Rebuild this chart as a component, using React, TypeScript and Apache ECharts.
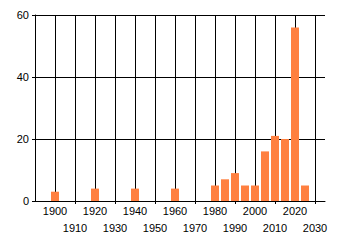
import React, { useEffect, useRef } from "react";
import * as echarts from "echarts";

const years = [1900, 1920, 1940, 1960, 1980, 1985, 1990, 1995, 2000, 2005, 2010, 2015, 2020, 2025];
const counts = [3, 4, 4, 4, 5, 7, 9, 5, 5, 16, 21, 20, 56, 5];
const yTicks = [0, 20, 40, 60];
const xLabelValues = [1900, 1910, 1920, 1930, 1940, 1950, 1960, 1970, 1980, 1990, 2000, 2010, 2020, 2030];
const xTickMarks = [1910, 1930, 1950, 1970, 1990, 2010, 2030];

const FONT = "'Liberation Sans', Arial, sans-serif";

export default function App() {
  const ref = useRef<HTMLDivElement>(null);
  useEffect(() => {
    if (!ref.current) return;
    const chart = echarts.init(ref.current, null, { renderer: "svg" });
    chart.setOption({
      animation: false,
      backgroundColor: "#ffffff",
      grid: { left: 35, right: 15, top: 15, bottom: 44 },
      xAxis: [
        {
          type: "value",
          min: 1890,
          max: 2035,
          interval: 10,
          axisLine: { show: true, lineStyle: { color: "#000", width: 1 } },
          axisTick: { show: false },
          splitLine: { show: true, showMaxLine: false, lineStyle: { color: "#000", width: 1 } },
          axisLabel: {
            show: true,
            margin: 1,
            color: "#000",
            fontFamily: FONT,
            fontSize: 11,
            lineHeight: 17,
            hideOverlap: false,
            showMinLabel: true,
            showMaxLabel: true,
            formatter: (v: number) => {
              if (xLabelValues.indexOf(v) < 0) return "";
              return v % 20 === 0 ? String(v) : "\n" + v;
            },
          },
        },
        {
          type: "value",
          min: 1890,
          max: 2035,
          interval: 10,
          position: "bottom",
          axisLine: { show: false },
          splitLine: { show: false },
          axisLabel: { show: false },
          axisTick: {
            show: true,
            length: 3,
            customValues: xTickMarks,
            lineStyle: { color: "#000", width: 1 },
          },
        },
      ],
      yAxis: {
        type: "value",
        min: yTicks[0],
        max: yTicks[yTicks.length - 1],
        interval: 20,
        axisLine: { show: true, lineStyle: { color: "#000", width: 1 } },
        axisTick: { show: true, length: 3, lineStyle: { color: "#000", width: 1 } },
        splitLine: { show: true, lineStyle: { color: "#000", width: 1 } },
        axisLabel: { margin: 6, color: "#000", fontFamily: FONT, fontSize: 11 },
      },
      series: [
        {
          type: "bar",
          xAxisIndex: 0,
          barWidth: 8,
          itemStyle: { color: "#FF8040" },
          data: years.map((y, i) => [y, counts[i]]),
        },
      ],
    });
    return () => chart.dispose();
  }, []);
  return <div ref={ref} style={{ width: 340, height: 245, margin: -8 }} />;
}
